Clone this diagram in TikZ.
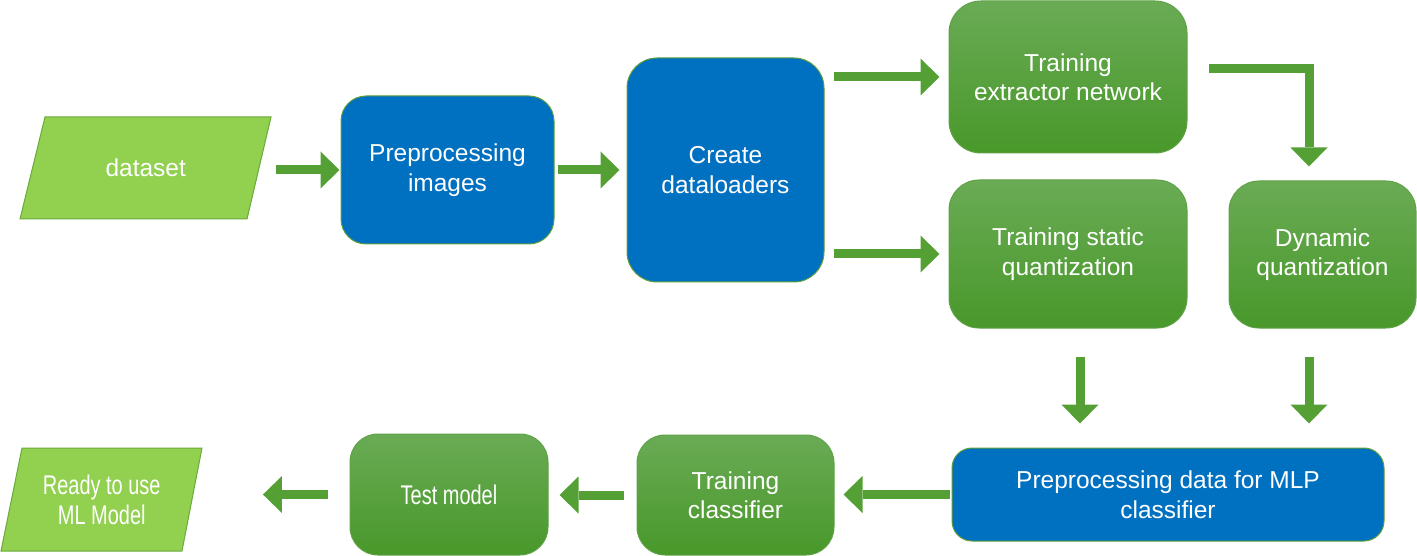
\documentclass[tikz,border=0pt]{standalone}
\usepackage{fontspec}
\setmainfont{Liberation Sans}
\newfontfamily\narrowfont[FakeStretch=0.74]{Liberation Sans}
\usetikzlibrary{arrows.meta}
\definecolor{gtop}{HTML}{6AAB55}
\definecolor{gbot}{HTML}{48982A}
\definecolor{gedge}{HTML}{5FA247}
\definecolor{myblue}{HTML}{0070C0}
\definecolor{blueedge}{HTML}{5E9E3C}
\definecolor{lgreen}{HTML}{92D050}
\definecolor{ledge}{HTML}{6AAA3C}
\definecolor{arrcol}{HTML}{55A035}
\begin{document}
\begin{tikzpicture}[x=1pt,y=-1pt,
  box/.style={rectangle, inner sep=0pt, align=center, text=white,
    font=\fontsize{24.5}{29.5}\selectfont},
  bluebox/.style={box, fill=myblue, draw=blueedge, line width=1pt},
  greenbox/.style={box, top color=gtop, bottom color=gbot, draw=gedge, line width=1pt},
  para/.style={fill=lgreen, draw=ledge, line width=1pt},
  arr/.style={draw=arrcol, line width=9pt,
    -{Triangle[width=37pt,length=19pt,line width=0pt]}}]
\useasboundingbox (0,0) rectangle (1417,556);

% parallelograms
\filldraw[para] (45,117) -- (271,117) -- (247,219) -- (20,219) -- cycle;
\filldraw[para] (22,448) -- (202,448) -- (182,551) -- (1,551) -- cycle;

\node[box, minimum width=226pt, minimum height=102pt] (ds) at (145.75,168) {dataset};
\node[box, minimum width=180pt, minimum height=103pt,
  font=\narrowfont\fontsize{27}{30}\selectfont] (rm) at (101.75,499.5) {Ready to use\\ML Model};

\node[bluebox, rounded corners=25pt, minimum width=213pt, minimum height=148pt] (pi) at (447.5,170) {Preprocessing\\images};
\node[bluebox, rounded corners=30pt, minimum width=197pt, minimum height=224pt] (cd) at (725.5,170) {Create\\dataloaders};
\node[greenbox, rounded corners=32pt, minimum width=238pt, minimum height=152pt] (ten) at (1068,77) {Training\\extractor network};
\node[greenbox, rounded corners=30pt, minimum width=238pt, minimum height=148pt] (tsq) at (1068,254) {Training static\\quantization};
\node[greenbox, rounded corners=30pt, minimum width=187pt, minimum height=147pt] (dq) at (1322.5,254.5) {Dynamic\\quantization};
\node[bluebox, rounded corners=20pt, minimum width=432pt, minimum height=93pt] (pd) at (1168,494.5) {Preprocessing data for MLP\\classifier};
\node[greenbox, rounded corners=28pt, minimum width=197pt, minimum height=120pt] (tc) at (735.5,495) {Training\\classifier};
\node[greenbox, rounded corners=28pt, minimum width=198pt, minimum height=121pt,
  font=\narrowfont\fontsize{27}{30}\selectfont] (tm) at (449,494.5) {Test model};

% connectors
\draw[arr, shorten <=17pt, shorten >=1pt] (ds.east |- pi.west) -- (pi.west);
\draw[arr, shorten <=3pt, shorten >=7pt] (pi.east) -- (cd.west);
\draw[arr, shorten <=9pt, shorten >=9pt] (cd.east |- ten.west) -- (ten.west);
\draw[arr, shorten <=9pt, shorten >=9pt] (cd.east |- tsq.west) -- (tsq.west);
\draw[arr, shorten <=21pt, shorten >=14pt] ([yshift=8pt]ten.east) -| ([xshift=-13.5pt]dq.north);
\draw[arr, shorten <=28pt, shorten >=24pt] ([xshift=12pt]tsq.south) -- ([xshift=-88pt]pd.north);
\draw[arr, shorten <=28pt, shorten >=24pt] ([xshift=-13.5pt]dq.south) -- ([xshift=141pt]pd.north);
\draw[arr, shorten <=2pt, shorten >=9pt] (pd.west) -- (tc.east |- pd.west);
\draw[arr, shorten <=13pt, shorten >=11pt] (tc.west) -- (tm.east |- tc.west);
\draw[arr, shorten <=22pt, shorten >=71pt] (tm.west) -- (rm.east |- tm.west);
\end{tikzpicture}
\end{document}
